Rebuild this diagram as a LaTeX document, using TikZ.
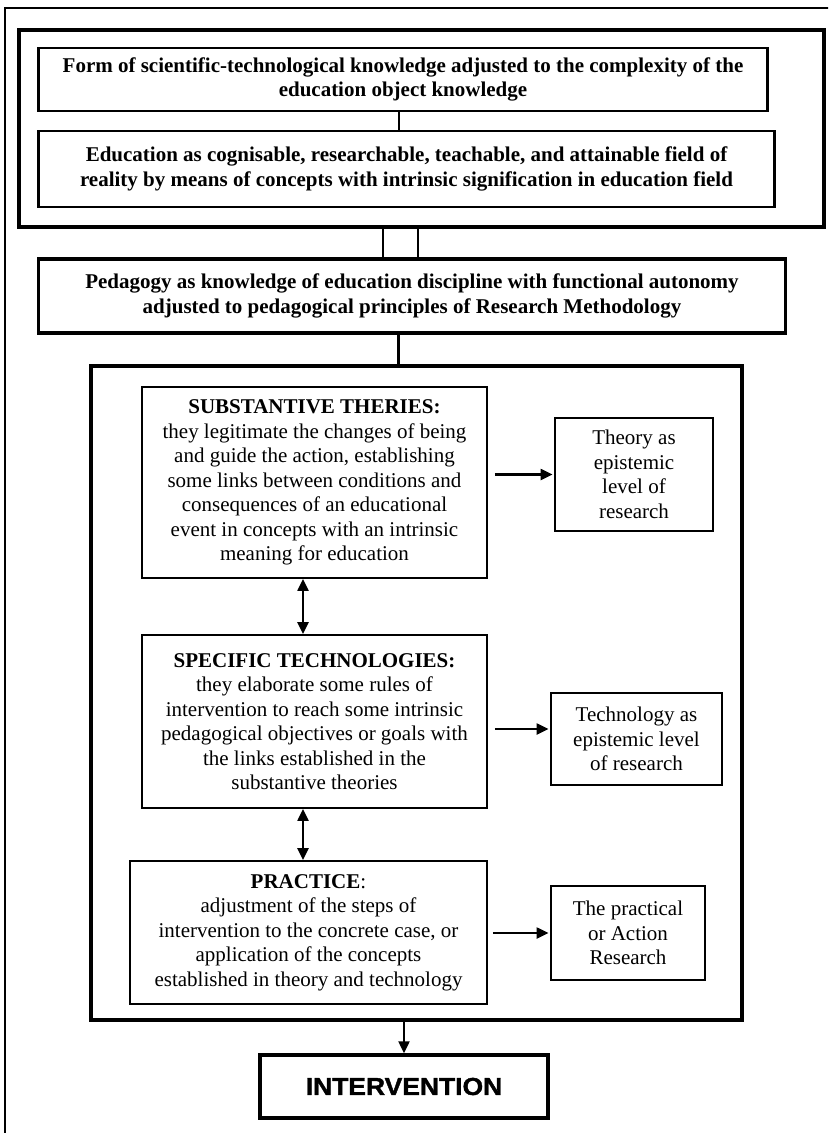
\documentclass[tikz,border=0pt]{standalone}
\usepackage{fontspec}
\setmainfont{Liberation Serif}
\newfontfamily\interfont[FakeBold=1.5,FakeStretch=1.08]{Liberation Sans Bold}
\usetikzlibrary{arrows.meta}
\begin{document}
\begin{tikzpicture}[x=1pt,y=-1pt,
  every node/.style={inner sep=0pt, align=center, font=\fontsize{21}{24.5}\selectfont},
  thinbox/.style={draw, line width=1.8pt},
  medbox/.style={draw, line width=2.3pt},
  thickbox/.style={draw, line width=3.4pt},
  plainline/.style={line width=2pt},
  arr/.style={line width=2.2pt, -{Triangle[length=12pt,width=11pt]}},
  darr/.style={line width=2.2pt, {Triangle[length=12pt,width=11pt]}-{Triangle[length=12pt,width=11pt]}}]
\useasboundingbox (0,0) rectangle (828,1133);
\begin{scope}
\clip (0,0) rectangle (828,1133);
\node[draw, line width=1.4pt, minimum width=825pt, minimum height=1132pt] (frame) at (417.5,574) {};
\end{scope}
\node[thickbox, minimum width=805pt, minimum height=197pt] (top) at (421.5,128.5) {};
\node[medbox, minimum width=729pt, minimum height=63pt] (box1) at (403,79.5)
  {\bfseries Form of scientific-technological knowledge adjusted to the complexity of the\\\bfseries education object knowledge};
\node[medbox, minimum width=736pt, minimum height=76pt] (box2) at (406.5,169)
  {\bfseries Education as cognisable, researchable, teachable, and attainable field of\\\bfseries reality by means of concepts with intrinsic signification in education field};
\node[thickbox, minimum width=747pt, minimum height=74pt] (ped) at (412,296)
  {\bfseries Pedagogy as knowledge of education discipline with functional autonomy\\\bfseries adjusted to pedagogical principles of Research Methodology};
\node[thickbox, minimum width=651pt, minimum height=654pt] (big) at (416.5,693) {};
\node[thinbox, minimum width=345pt, minimum height=191pt] (sub) at (314.5,482.5)
  {\textbf{SUBSTANTIVE THERIES:}\\they legitimate the changes of being\\and guide the action, establishing\\some links between conditions and\\consequences of an educational\\event in concepts with an intrinsic\\meaning for education};
\node[thinbox, minimum width=158pt, minimum height=113pt] (theory) at (634,474.5)
  {Theory as\\epistemic\\level of\\research};
\node[thinbox, minimum width=345pt, minimum height=173pt] (spec) at (314.5,721.5)
  {\textbf{SPECIFIC TECHNOLOGIES:}\\they elaborate some rules of\\intervention to reach some intrinsic\\pedagogical objectives or goals with\\the links established in the\\substantive theories};
\node[thinbox, minimum width=171pt, minimum height=92pt] (tech) at (636.5,739)
  {Technology as\\epistemic level\\of research};
\node[thinbox, minimum width=357pt, minimum height=143pt] (prac) at (308.5,932.5)
  {\textbf{PRACTICE}:\\adjustment of the steps of\\intervention to the concrete case, or\\application of the concepts\\established in theory and technology};
\node[thinbox, minimum width=154pt, minimum height=94pt] (action) at (628,933)
  {The practical\\or Action\\Research};
\node[thickbox, minimum width=288pt, minimum height=63pt, font=\interfont\fontsize{24.5}{30}\selectfont] (inter) at (404,1086.5)
  {INTERVENTION};
% connectors
\draw[plainline] ([xshift=-4.4pt]box1.south) -- ([xshift=-4.4pt]box1.south |- box2.north);
\draw[plainline, line width=2.6pt] ([xshift=-29pt]ped.north) -- ([xshift=-29pt]ped.north |- top.south);
\draw[plainline, line width=2.6pt] ([xshift=6pt]ped.north) -- ([xshift=6pt]ped.north |- top.south);
\draw[plainline, line width=2.6pt] ([xshift=-13.4pt]ped.south) -- ([xshift=-13.4pt]ped.south |- big.north);
\draw[arr, shorten >=1.5pt] ([xshift=7pt]sub.east |- theory.west) -- (theory.west);
\draw[arr, shorten >=1.5pt] ([xshift=7pt,yshift=10pt]spec.east |- tech.west) -- ([yshift=10pt]tech.west);
\draw[arr, shorten >=1.5pt] ([xshift=5pt]prac.east |- action.west) -- (action.west);
\draw[darr] ([xshift=-11.5pt]sub.south) -- ([xshift=-11.5pt]sub.south |- spec.north);
\draw[darr] ([xshift=-11.5pt]spec.south) -- ([xshift=-11.5pt]spec.south |- prac.north);
\draw[arr] (inter.north |- big.south) -- (inter.north);
\end{tikzpicture}
\end{document}
